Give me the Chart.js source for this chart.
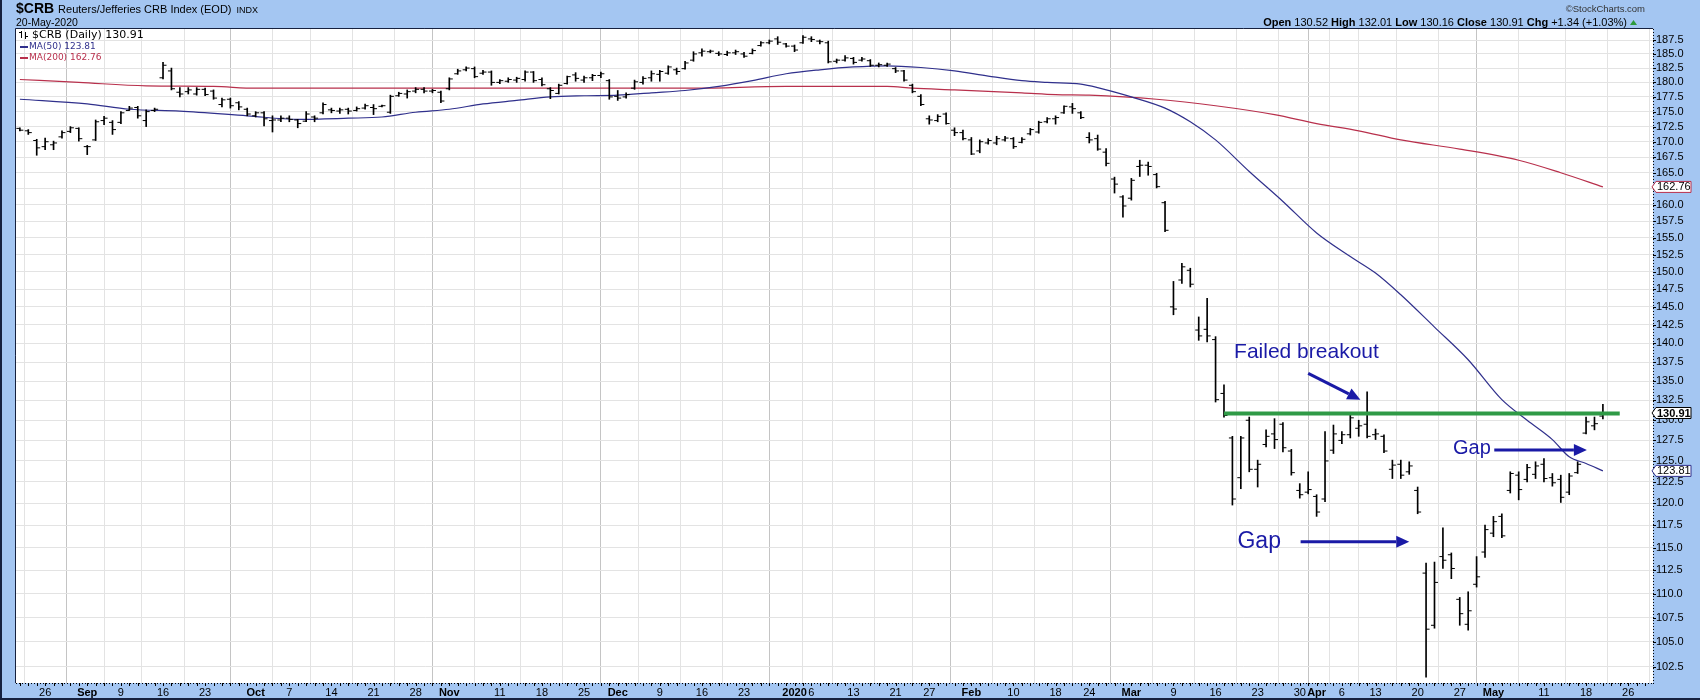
<!DOCTYPE html>
<html>
<head>
<meta charset="utf-8">
<title>$CRB Reuters/Jefferies CRB Index</title>
<script src="https://cdn.jsdelivr.net/npm/chart.js@4.4.1/dist/chart.umd.min.js"></script>
<style>
  html, body { margin: 0; padding: 0; background: #a4c6f2; }
  #wrap { width: 1700px; height: 700px; }
</style>
</head>
<body>
<div id="wrap"><canvas id="crb" width="1700" height="700"></canvas></div>
<script>
// trading sessions shown on the axis (last few are empty space to the right)
const days = [
  '8/21','8/22','8/23','8/26','8/27','8/28','8/29','8/30',
  '9/3','9/4','9/5','9/6','9/9','9/10','9/11','9/12','9/13','9/16','9/17','9/18','9/19','9/20','9/23','9/24','9/25','9/26','9/27','9/30',
  '10/1','10/2','10/3','10/4','10/7','10/8','10/9','10/10','10/11','10/14','10/15','10/16','10/17','10/18','10/21','10/22','10/23','10/24','10/25','10/28','10/29','10/30','10/31',
  '11/1','11/4','11/5','11/6','11/7','11/8','11/11','11/12','11/13','11/14','11/15','11/18','11/19','11/20','11/21','11/22','11/25','11/26','11/27','11/29',
  '12/2','12/3','12/4','12/5','12/6','12/9','12/10','12/11','12/12','12/13','12/16','12/17','12/18','12/19','12/20','12/23','12/24','12/26','12/27','12/30','12/31',
  '1/2','1/3','1/6','1/7','1/8','1/9','1/10','1/13','1/14','1/15','1/16','1/17','1/21','1/22','1/23','1/24','1/27','1/28','1/29','1/30','1/31',
  '2/3','2/4','2/5','2/6','2/7','2/10','2/11','2/12','2/13','2/14','2/18','2/19','2/20','2/21','2/24','2/25','2/26','2/27','2/28',
  '3/2','3/3','3/4','3/5','3/6','3/9','3/10','3/11','3/12','3/13','3/16','3/17','3/18','3/19','3/20','3/23','3/24','3/25','3/26','3/27','3/30','3/31',
  '4/1','4/2','4/3','4/6','4/7','4/8','4/9','4/13','4/14','4/15','4/16','4/17','4/20','4/21','4/22','4/23','4/24','4/27','4/28','4/29','4/30',
  '5/1','5/4','5/5','5/6','5/7','5/8','5/11','5/12','5/13','5/14','5/15','5/18','5/19','5/20',
  '5/21','5/22','5/26','5/27','5/28'
];

const tickDays = ['8/26','9/3','9/9','9/16','9/23','10/1','10/7','10/14','10/21','10/28','11/1','11/11','11/18','11/25',
  '12/2','12/9','12/16','12/23','1/2','1/6','1/13','1/21','1/27','2/3','2/10','2/18','2/24','3/2','3/9','3/16','3/23','3/30',
  '4/1','4/6','4/13','4/20','4/27','5/1','5/11','5/18','5/26'];
const tickText = ['26','Sep','9','16','23','Oct','7','14','21','28','Nov','11','18','25',
  'Dec','9','16','23','2020','6','13','21','27','Feb','10','18','24','Mar','9','16','23','30',
  'Apr','6','13','20','27','May','11','18','26'];

const yTicks = [102.5,105,107.5,110,112.5,115,117.5,120,122.5,125,127.5,130,132.5,135,137.5,140,142.5,145,147.5,150,
  152.5,155,157.5,160,162.5,165,167.5,170,172.5,175,177.5,180,182.5,185,187.5];

const open = [
  172.2,171.8,170.2,169.2,169.5,170.8,171.7,172.2,169.2,170.3,
  173.5,173.2,173.2,175.2,175.7,173.5,175.2,180.8,182.0,178.3,
  178.4,178.0,178.8,178.5,176.2,177.1,176.5,175.4,174.3,174.8,
  173.5,173.6,173.9,173.6,173.4,174.1,174.8,175.3,175.1,175.4,
  175.2,175.6,175.7,175.9,174.9,177.7,178.0,178.5,178.8,178.5,
  178.3,178.9,181.5,182.2,182.4,181.6,181.8,180.0,180.2,180.4,
  180.5,181.8,180.5,178.9,178.1,179.8,181.3,180.4,180.8,181.2,
  180.3,177.6,177.5,179.0,180.0,180.8,181.4,181.6,182.2,182.4,
  183.9,185.2,185.4,185.1,184.9,185.2,185.0,185.1,186.5,187.0,
  187.7,186.8,186.4,187.0,187.7,187.3,187.0,183.7,183.9,184.2,
  183.9,183.8,183.0,183.0,182.4,182.0,179.5,177.6,173.8,173.5,
  174.6,171.9,171.5,170.3,168.5,169.8,169.8,170.3,170.5,169.9,
  171.3,171.6,173.3,173.8,174.8,175.8,174.8,170.7,170.5,168.3,
  164.0,161.2,161.0,166.0,166.2,164.7,160.3,145.0,148.8,150.2,
  141.8,141.9,140.5,133.4,127.8,123.0,130.0,124.0,127.0,128.3,
  129.5,126.2,121.5,121.3,120.8,120.5,126.3,127.5,128.2,129.0,
  129.5,128.2,128.0,124.0,124.6,123.7,121.5,112.2,106.7,114.0,
  114.2,109.4,106.8,111.0,114.5,116.6,118.5,121.5,123.3,122.8,
  123.4,124.6,123.0,122.8,121.3,123.6,128.4,129.3,130.52
];
const high = [
  172.3,172.0,170.4,170.6,170.1,171.8,172.5,172.3,169.4,173.6,
  174.2,173.5,175.0,175.9,175.9,175.3,175.6,183.5,182.5,179.1,
  179.1,179.1,179.0,178.7,177.3,177.3,176.7,175.6,175.0,175.0,
  174.3,174.3,174.3,173.7,175.0,174.3,176.5,175.6,175.6,175.6,
  175.8,176.3,176.2,176.1,177.8,178.3,178.7,179.1,179.1,178.8,
  178.5,180.8,182.3,182.7,182.7,182.1,182.0,180.5,180.8,180.9,
  182.0,181.9,180.8,179.1,179.7,181.1,181.7,181.1,181.4,181.8,
  180.5,178.6,178.2,180.4,181.0,182.0,182.1,182.9,182.5,183.7,
  185.4,185.9,185.7,185.4,185.5,185.7,185.3,185.9,187.2,187.5,
  188.1,186.9,186.6,188.3,188.1,187.5,187.3,184.1,184.7,184.4,
  184.4,184.0,183.4,183.4,182.6,182.1,179.7,177.9,174.3,174.5,
  174.8,172.3,171.9,170.7,170.3,170.5,170.9,170.9,170.7,170.7,
  172.2,173.4,174.0,174.3,176.0,176.4,175.0,171.5,171.1,168.9,
  164.3,161.4,164.1,167.0,166.7,164.9,160.5,148.6,151.2,150.5,
  143.6,146.2,140.9,134.5,128.0,128.0,130.4,125.1,128.8,130.2,
  129.7,126.4,122.3,123.7,121.0,128.6,129.4,128.6,130.7,130.0,
  133.6,128.9,128.2,125.1,125.1,124.9,121.9,113.3,113.4,117.2,
  114.4,109.6,110.2,114.0,117.5,118.5,118.8,123.7,123.7,124.6,
  124.9,125.3,123.5,123.3,123.5,124.9,130.4,130.4,132.01
];
const low = [
  171.8,171.2,167.8,168.7,168.7,170.6,171.5,170.1,167.9,170.2,
  172.8,171.2,173.0,175.2,173.9,172.5,175.0,180.6,178.7,177.5,
  178.0,177.8,177.7,177.1,175.8,175.6,175.3,174.3,174.1,172.6,
  171.6,173.3,173.3,172.3,173.3,173.3,174.6,174.8,174.7,174.6,
  175.1,175.4,174.5,175.8,174.7,177.6,177.3,178.2,178.2,178.2,
  176.5,178.7,181.4,182.0,180.8,181.4,179.5,179.8,180.0,180.0,
  180.2,180.0,179.4,177.2,178.0,179.7,180.2,180.0,180.3,180.8,
  177.1,176.9,177.3,178.8,179.7,180.2,180.2,181.4,181.4,182.3,
  183.7,184.6,185.2,184.7,184.7,184.9,184.4,185.0,186.4,186.8,
  186.7,186.2,185.4,186.9,187.2,186.8,183.4,183.4,183.7,183.2,
  183.7,182.8,182.7,182.8,181.7,180.2,178.2,176.0,172.9,173.3,
  172.9,171.0,170.3,167.9,168.2,169.6,169.5,170.1,168.9,169.8,
  171.1,171.4,173.1,172.9,174.7,174.7,173.8,169.8,168.6,166.1,
  161.8,158.1,160.7,164.4,164.6,162.6,155.9,143.9,148.3,147.8,
  140.4,140.2,132.3,130.4,119.8,121.7,123.7,121.9,126.7,126.5,
  126.1,123.3,120.6,121.1,118.5,120.2,125.9,127.1,127.8,128.0,
  127.8,127.6,126.0,122.9,122.9,123.4,118.8,101.5,106.4,112.7,
  111.6,106.7,106.2,110.7,113.9,116.2,116.1,121.2,120.4,122.5,
  122.9,122.5,122.0,120.1,121.0,123.5,128.3,128.8,130.16
];
const close = [
  171.9,171.5,169.0,170.0,169.8,171.5,172.3,170.5,169.2,173.3,
  173.9,172.0,174.8,175.6,174.3,175.0,175.4,183.0,178.9,178.0,
  178.7,178.8,177.9,177.3,177.0,176.0,175.8,174.6,174.8,173.8,
  173.6,173.9,173.7,173.0,174.6,173.9,176.2,175.2,175.3,175.1,
  175.5,176.0,175.5,176.0,177.6,178.1,178.4,178.8,178.5,178.6,
  176.8,180.6,182.0,182.5,181.0,181.8,180.0,180.3,180.5,180.7,
  181.8,180.3,179.6,178.6,179.5,181.0,180.7,180.8,181.2,181.5,
  177.5,177.3,177.9,180.1,180.7,181.5,181.9,182.7,181.9,183.4,
  185.0,185.5,185.5,185.0,185.2,185.4,184.6,185.6,187.0,187.3,
  187.1,186.4,185.7,188.0,187.6,187.2,183.6,183.9,184.3,183.5,
  184.1,183.0,183.1,183.2,182.0,180.4,178.4,176.2,173.6,174.2,
  173.0,171.5,170.5,168.0,170.0,170.2,170.5,170.6,169.2,170.4,
  172.0,173.2,173.8,174.0,175.9,175.5,174.0,170.3,168.8,166.5,
  163.2,159.8,163.8,166.2,166.0,162.8,156.1,144.7,150.7,148.2,
  141.0,141.0,132.6,130.6,120.5,127.8,124.0,124.6,128.0,127.6,
  126.6,123.6,121.0,121.6,119.0,125.0,128.3,128.2,130.3,129.3,
  128.0,128.3,126.2,124.5,123.3,124.4,119.0,106.3,111.2,113.6,
  112.7,107.9,108.2,111.8,117.0,117.9,116.3,123.5,121.6,124.2,
  124.4,122.9,122.4,120.7,123.2,124.6,129.8,129.57,130.91
];

// moving averages: [session index, value]
const ma50 = [[0,177.1],[8,176.3],[13,175.4],[19,175.1],[27,174.3],[33,173.7],[39,173.9],[43,174.1],[47,174.9],
  [51,175.4],[55,176.3],[59,176.9],[63,177.5],[67,177.7],[71,177.8],[75,178.2],[79,178.6],[83,179.3],[87,180.3],
  [91,181.5],[95,182.2],[99,182.7],[103,182.9],[107,182.6],[111,182.0],[115,181.1],[119,180.3],[122,180.0],
  [126,179.7],[128,179.1],[132,177.5],[136,175.6],[139,173.3],[142,170.3],[146,165.2],[150,160.5],[154,155.7],
  [158,152.2],[161,149.8],[164,146.7],[168,142.2],[172,137.8],[176,132.6],[179,130.0],[182,127.6],[184,125.5],
  [186,124.7],[188,123.81]];
const ma200 = [[0,180.5],[7,180.0],[15,179.4],[23,179.3],[28,179.0],[40,179.0],[60,179.0],[80,179.0],[91,179.3],
  [103,179.3],[106,179.0],[111,178.7],[119,178.2],[123,177.9],[127,177.8],[135,177.1],[142,176.0],[149,174.5],
  [154,173.0],[159,171.8],[164,170.3],[171,168.8],[178,167.0],[183,165.0],[188,162.76]];

// drawn-in support line
const trendFrom = '3/17', trendTo = '5/22', trendLevel = 130.85;

// hand-drawn notes, anchored in session index / price
const notes = [
  {text: 'Failed breakout', x: 144.2, y: 138.0, size: 21},
  {text: 'Gap', x: 144.6, y: 114.9, size: 23},
  {text: 'Gap', x: 170.2, y: 125.8, size: 20}
];
const noteArrows = [
  {from: [153.0, 136.0], to: [159.2, 132.6]},
  {from: [152.1, 115.65], to: [165.0, 115.65]},
  {from: [175.1, 126.33], to: [186.1, 126.33]}
];

const FONT = "Arial, 'Liberation Sans', sans-serif";
const SMALL_FONT = "'DejaVu Sans', Verdana, sans-serif";
const PANEL_BLUE = '#a4c6f2';
const NAVY = '#16213f';
const MA50_COLOR = '#30308c';
const MA200_COLOR = '#b8304c';
const NOTE_BLUE = '#1a1aa6';
const TREND_GREEN = '#2f9a46';

const di = d => days.indexOf(d);
const tickIdx = tickDays.map(di);
const boldTick = tickText.map(t => isNaN(+t) || t === '2020');
const last = close.length - 1;

const rangeData = high.map((h, i) => ({x: i, y: [low[i], h]}));
const openData = open.map((v, i) => ({x: i, y: v}));
const closeData = close.map((v, i) => ({x: i, y: v}));

function arrow(ctx, x1, y1, x2, y2) {
  const ang = Math.atan2(y2 - y1, x2 - x1);
  const head = 13, half = 6;
  const bx = x2 - Math.cos(ang) * head, by = y2 - Math.sin(ang) * head;
  ctx.strokeStyle = NOTE_BLUE;
  ctx.fillStyle = NOTE_BLUE;
  ctx.lineWidth = 3;
  ctx.beginPath(); ctx.moveTo(x1, y1); ctx.lineTo(bx, by); ctx.stroke();
  ctx.beginPath();
  ctx.moveTo(x2, y2);
  ctx.lineTo(bx + Math.sin(ang) * half, by - Math.cos(ang) * half);
  ctx.lineTo(bx - Math.sin(ang) * half, by + Math.cos(ang) * half);
  ctx.closePath(); ctx.fill();
}

function valueBox(ctx, x0, yc, text, color, bold) {
  const w = 39, h = 11;
  ctx.beginPath();
  ctx.moveTo(x0, yc);
  ctx.lineTo(x0 + 4, yc - h / 2);
  ctx.lineTo(x0 + w, yc - h / 2);
  ctx.lineTo(x0 + w, yc + h / 2);
  ctx.lineTo(x0 + 4, yc + h / 2);
  ctx.closePath();
  ctx.fillStyle = '#fff';
  ctx.fill();
  ctx.strokeStyle = color;
  ctx.lineWidth = 1;
  ctx.stroke();
  ctx.fillStyle = '#000';
  ctx.font = (bold ? 'bold ' : '') + '11px ' + FONT;
  ctx.textAlign = 'left';
  ctx.textBaseline = 'middle';
  ctx.fillText(text, x0 + 5, yc + 0.5);
}

const stockFrame = {
  id: 'stockFrame',
  beforeDraw(chart) {
    const {ctx, chartArea: a, width, height} = chart;
    ctx.save();
    ctx.fillStyle = PANEL_BLUE;
    ctx.fillRect(0, 0, width, height);
    ctx.fillStyle = '#fff';
    ctx.fillRect(a.left, a.top, a.right - a.left, a.bottom - a.top);
    ctx.restore();
  },
  afterDraw(chart) {
    const {ctx, chartArea: a, width, height} = chart;
    const xs = chart.scales.x, ys = chart.scales.y;
    ctx.save();

    // plot frame
    ctx.strokeStyle = NAVY;
    ctx.lineWidth = 1;
    ctx.beginPath();
    ctx.moveTo(a.left - 0.5, a.bottom); ctx.lineTo(a.left - 0.5, a.top - 0.5); ctx.lineTo(a.right, a.top - 0.5);
    ctx.stroke();
    ctx.strokeStyle = '#000';
    ctx.setLineDash([1, 2]);
    ctx.beginPath();
    ctx.moveTo(a.right + 0.5, a.top); ctx.lineTo(a.right + 0.5, a.bottom + 1);
    ctx.moveTo(a.left, a.bottom + 0.5); ctx.lineTo(a.right, a.bottom + 0.5);
    ctx.stroke();
    ctx.setLineDash([]);
    ctx.beginPath();
    days.forEach((d, i) => {
      const x = Math.round(xs.getPixelForValue(i)) + 0.5;
      ctx.moveTo(x, a.bottom); ctx.lineTo(x, a.bottom + 3);
    });
    yTicks.forEach(v => {
      const y = Math.round(ys.getPixelForValue(v)) + 0.5;
      ctx.moveTo(a.right, y); ctx.lineTo(a.right + 3, y);
    });
    ctx.stroke();

    // outer border
    ctx.fillStyle = NAVY;
    ctx.fillRect(0, 0, 2, height);
    ctx.fillRect(0, height - 2, width, 2);

    // header
    ctx.textBaseline = 'alphabetic';
    ctx.textAlign = 'left';
    ctx.fillStyle = '#000';
    ctx.font = 'bold 14px ' + FONT;
    let hx = 16;
    ctx.fillText('$CRB', hx, 13);
    hx += ctx.measureText('$CRB').width + 4;
    ctx.font = '11px ' + FONT;
    ctx.fillText('Reuters/Jefferies CRB Index (EOD)', hx, 13);
    hx += ctx.measureText('Reuters/Jefferies CRB Index (EOD)').width + 5;
    ctx.font = '9px ' + FONT;
    ctx.fillText('INDX', hx, 13);
    ctx.font = '10.5px ' + FONT;
    ctx.fillText('20-May-2020', 16, 26);

    ctx.fillStyle = '#333';
    ctx.font = '9.5px ' + FONT;
    ctx.textAlign = 'right';
    ctx.fillText('\u00a9StockCharts.com', 1645, 12);

    const chg = close[last] - close[last - 1];
    const pct = chg / close[last - 1] * 100;
    const parts = [
      ['Open ', true], [open[last].toFixed(2) + ' ', false],
      ['High ', true], [high[last].toFixed(2) + ' ', false],
      ['Low ', true], [low[last].toFixed(2) + ' ', false],
      ['Close ', true], [close[last].toFixed(2) + ' ', false],
      ['Chg ', true], ['+' + chg.toFixed(2) + ' (+' + pct.toFixed(2) + '%)', false]
    ];
    let total = 0;
    parts.forEach(p => { ctx.font = (p[1] ? 'bold ' : '') + '11px ' + FONT; total += ctx.measureText(p[0]).width; });
    let tx = 1627 - total;
    ctx.textAlign = 'left';
    ctx.fillStyle = '#000';
    parts.forEach(p => {
      ctx.font = (p[1] ? 'bold ' : '') + '11px ' + FONT;
      ctx.fillText(p[0], tx, 26);
      tx += ctx.measureText(p[0]).width;
    });
    ctx.fillStyle = '#2e9a3c';
    ctx.beginPath();
    ctx.moveTo(1630, 25); ctx.lineTo(1637, 25); ctx.lineTo(1633.5, 20); ctx.closePath();
    ctx.fill();

    // legend in the plot
    ctx.strokeStyle = '#000';
    ctx.lineWidth = 1;
    ctx.beginPath();
    ctx.moveTo(21.5, 31); ctx.lineTo(21.5, 38); ctx.moveTo(19, 32.5); ctx.lineTo(21.5, 32.5);
    ctx.moveTo(25.5, 32); ctx.lineTo(25.5, 39); ctx.moveTo(25.5, 36.5); ctx.lineTo(28, 36.5);
    ctx.stroke();
    ctx.textBaseline = 'middle';
    ctx.fillStyle = '#000';
    ctx.font = '11px ' + SMALL_FONT;
    ctx.fillText('$CRB (Daily) ' + close[last].toFixed(2), 32, 35.5);
    ctx.font = '9px ' + SMALL_FONT;
    ctx.fillStyle = MA50_COLOR;
    ctx.fillRect(20, 46, 8, 2);
    ctx.fillText('MA(50) ' + ma50[ma50.length - 1][1].toFixed(2), 29, 47);
    ctx.fillStyle = MA200_COLOR;
    ctx.fillRect(20, 57, 8, 2);
    ctx.fillText('MA(200) ' + ma200[ma200.length - 1][1].toFixed(2), 29, 58);

    // notes
    ctx.save();
    ctx.beginPath();
    ctx.rect(a.left, a.top, a.right - a.left, a.bottom - a.top);
    ctx.clip();
    ctx.textBaseline = 'alphabetic';
    ctx.fillStyle = NOTE_BLUE;
    notes.forEach(n => {
      ctx.font = n.size + 'px ' + FONT;
      ctx.fillText(n.text, xs.getPixelForValue(n.x), ys.getPixelForValue(n.y));
    });
    noteArrows.forEach(r => {
      arrow(ctx, xs.getPixelForValue(r.from[0]), ys.getPixelForValue(r.from[1]),
        xs.getPixelForValue(r.to[0]), ys.getPixelForValue(r.to[1]));
    });
    ctx.restore();

    // last-value boxes on the price axis
    valueBox(ctx, a.right - 1, ys.getPixelForValue(ma200[ma200.length - 1][1]), ma200[ma200.length - 1][1].toFixed(2), MA200_COLOR, false);
    valueBox(ctx, a.right - 1, ys.getPixelForValue(ma50[ma50.length - 1][1]), ma50[ma50.length - 1][1].toFixed(2), MA50_COLOR, false);
    valueBox(ctx, a.right - 1, ys.getPixelForValue(close[last]), close[last].toFixed(2), '#000', true);

    ctx.restore();
  }
};

new Chart(document.getElementById('crb'), {
  type: 'bar',
  data: {
    datasets: [
      {
        type: 'line', label: 'Trend', data: [{x: di(trendFrom), y: trendLevel}, {x: di(trendTo), y: trendLevel}],
        borderColor: TREND_GREEN, borderWidth: 4, pointRadius: 0, order: 0
      },
      {
        type: 'scatter', label: 'Open', data: openData, pointStyle: 'dash', pointRotation: 180, pointRadius: 3.5,
        pointBorderColor: '#000', pointBackgroundColor: '#000', pointBorderWidth: 1, order: 1
      },
      {
        type: 'scatter', label: 'Close', data: closeData, pointStyle: 'dash', pointRotation: 0, pointRadius: 3.5,
        pointBorderColor: '#000', pointBackgroundColor: '#000', pointBorderWidth: 1, order: 1
      },
      {
        type: 'bar', label: '$CRB', data: rangeData, backgroundColor: '#000', borderWidth: 0,
        barThickness: 1, order: 2
      },
      {
        type: 'line', label: 'MA(50)', data: ma50.map(([x, y]) => ({x, y})), borderColor: MA50_COLOR,
        borderWidth: 1.2, pointRadius: 0, cubicInterpolationMode: 'monotone', order: 3
      },
      {
        type: 'line', label: 'MA(200)', data: ma200.map(([x, y]) => ({x, y})), borderColor: MA200_COLOR,
        borderWidth: 1.2, pointRadius: 0, cubicInterpolationMode: 'monotone', order: 3
      }
    ]
  },
  options: {
    responsive: false,
    animation: false,
    devicePixelRatio: 1,
    layout: {padding: {left: 16, top: 29, right: 0, bottom: 0}},
    plugins: {legend: {display: false}, tooltip: {enabled: false}},
    scales: {
      x: {
        type: 'linear', min: -0.46, max: 193.95, offset: false,
        afterBuildTicks: s => { s.ticks = tickIdx.map(v => ({value: v})); },
        afterFit: s => { s.height = 17; },
        ticks: {
          autoSkip: false, maxRotation: 0, padding: 3, color: '#000',
          callback: (v, i) => tickText[i],
          font: c => ({family: FONT, size: 11, weight: boldTick[c.index] ? 'bold' : 'normal'})
        },
        grid: {
          drawTicks: false,
          color: c => boldTick[c.index] ? '#c4c4c4' : '#e3e3e3'
        },
        border: {display: false}
      },
      y: {
        type: 'logarithmic', position: 'right', min: 100.93, max: 189.5,
        afterBuildTicks: s => { s.ticks = yTicks.map(v => ({value: v})); },
        afterFit: s => { s.width = 47; },
        ticks: {
          autoSkip: false, padding: 3, color: '#000',
          callback: v => Number(v).toFixed(1),
          font: {family: FONT, size: 11}
        },
        grid: {drawTicks: false, color: '#e3e3e3'},
        border: {display: false}
      }
    }
  },
  plugins: [stockFrame]
});
</script>
</body>
</html>
